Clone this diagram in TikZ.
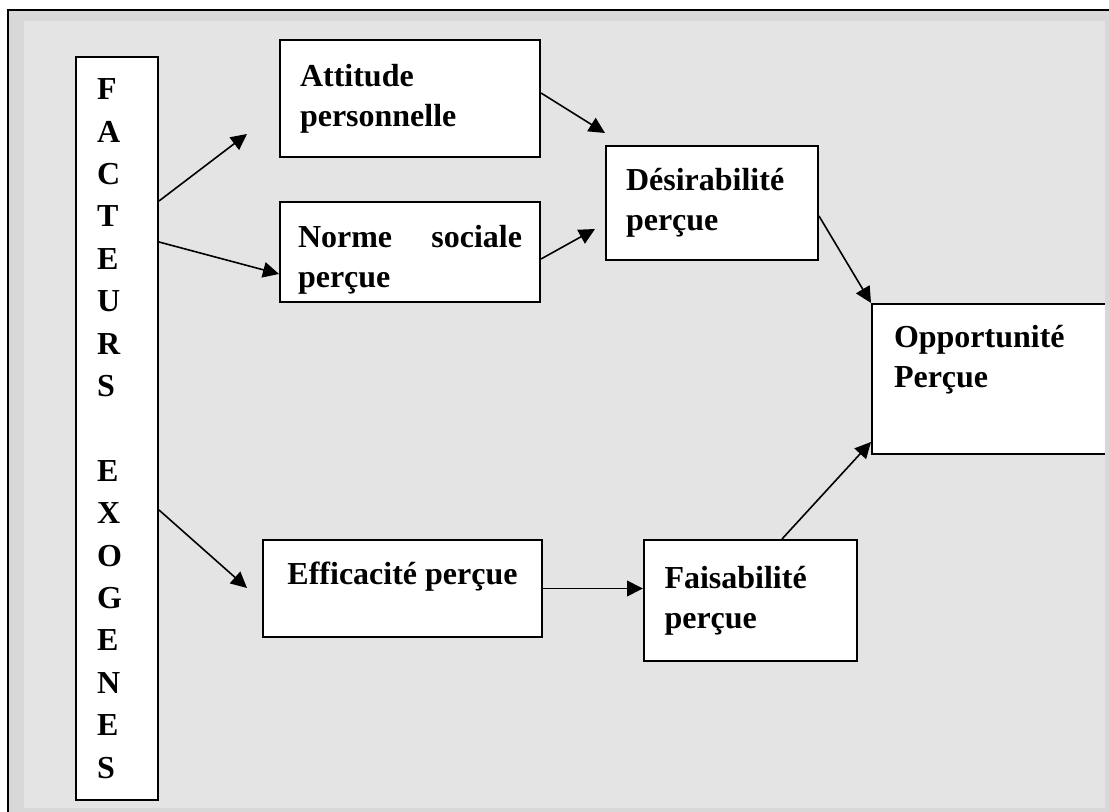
\documentclass[tikz,border=0pt]{standalone}
\usepackage{fontspec}
\setmainfont{Liberation Serif}
\usepackage{tikz}
\usetikzlibrary{arrows.meta,positioning,calc}
\definecolor{bordgris}{HTML}{D8D8D8}
\definecolor{fondgris}{HTML}{E4E4E4}
\tikzset{
  cadre/.style  ={draw=black, fill=white, line width=1pt,
                  inner xsep=10pt, inner ysep=0pt, align=left,
                  font=\bfseries\fontsize{16}{20}\selectfont},
  fleche/.style ={-{Triangle[length=8pt,width=7.8pt]}, line width=0.8pt},
}
\begin{document}
\begin{tikzpicture}[x=0.5pt,y=-0.5pt]
    \useasboundingbox (0,0) rectangle (1109,812);
    % ----- fond et cadre -----
    \fill[white] (0,0) rectangle (1109,812);
    \fill[bordgris] (8,10) rectangle (1109,812);
    \fill[fondgris] (24,21) rectangle (1105,808);
    \draw[line width=1pt] (8,812) -- (8,10) -- (1109,10);

    % ----- facteurs exogenes -----
    \node[cadre,minimum width=41pt,minimum height=371.5pt,
          text width=20pt,inner xsep=10.5pt,
          font=\bfseries\fontsize{16}{21.2}\selectfont] (facteurs) at (117,428.5)
      {F\\A\\C\\T\\E\\U\\R\\S\\[21.2pt]E\\X\\O\\G\\E\\N\\E\\S};

    % ----- premiere colonne -----
    \node[cadre,minimum width=130pt,minimum height=58.5pt,text width=110pt] (attitude) at (410,98.5)
      {Attitude\\personnelle};
    \node[cadre,minimum width=130pt,minimum height=50pt,text width=112pt,
          inner xsep=9pt,align=justify,text height=19pt] (norme) at (410,252)
      {Norme sociale perçue};
    \node[cadre,minimum width=139.5pt,minimum height=48.5pt,text depth=15.5pt] (efficacite) at (402.5,588.5)
      {Efficacité perçue};

    % ----- deuxieme colonne -----
    \node[cadre,minimum width=106pt,minimum height=57pt,text width=86pt] (desir) at (712,203)
      {Désirabilité\\perçue};
    \node[cadre,minimum width=106.5pt,minimum height=60.5pt,text width=86pt] (faisabilite) at (750.5,600.5)
      {Faisabilité\\perçue};

    % ----- resultat -----
    \node[cadre,minimum width=119pt,minimum height=75pt,text width=99pt,
          inner xsep=11pt,text depth=43pt] (opportunite) at (993,379)
      {Opportunité\\Perçue};
    \fill[bordgris] (1105,21) rectangle (1112,812);

    % ----- fleches -----
    \coordinate (pAtt)  at (247,134);
    \coordinate (pDes1) at (605,133);
    \coordinate (pDes2) at (595,229);
    \coordinate (pEff)  at (247,588);

    \draw[fleche] ($(facteurs.north east)+(0,145)$) -- (pAtt);
    \draw[fleche] ($(facteurs.north east)+(0,186)$) -- ($(norme.north west)+(0,73)$);
    \draw[fleche] ($(facteurs.north east)+(0,454)$) -- (pEff);
    \draw[fleche] ($(attitude.north east)+(0,54)$) -- (pDes1);
    \draw[fleche] ($(norme.north east)+(0,58)$) -- (pDes2);
    \draw[fleche] ($(desir.north east)+(0,71)$) -- (opportunite.north west);
    \draw[fleche] (efficacite.east) -- (efficacite.east -| faisabilite.west);
    \draw[fleche] ($(faisabilite.north)+(31.5,0)$) -- ($(opportunite.south west)+(0,-13)$);
  \end{tikzpicture}
\end{document}
